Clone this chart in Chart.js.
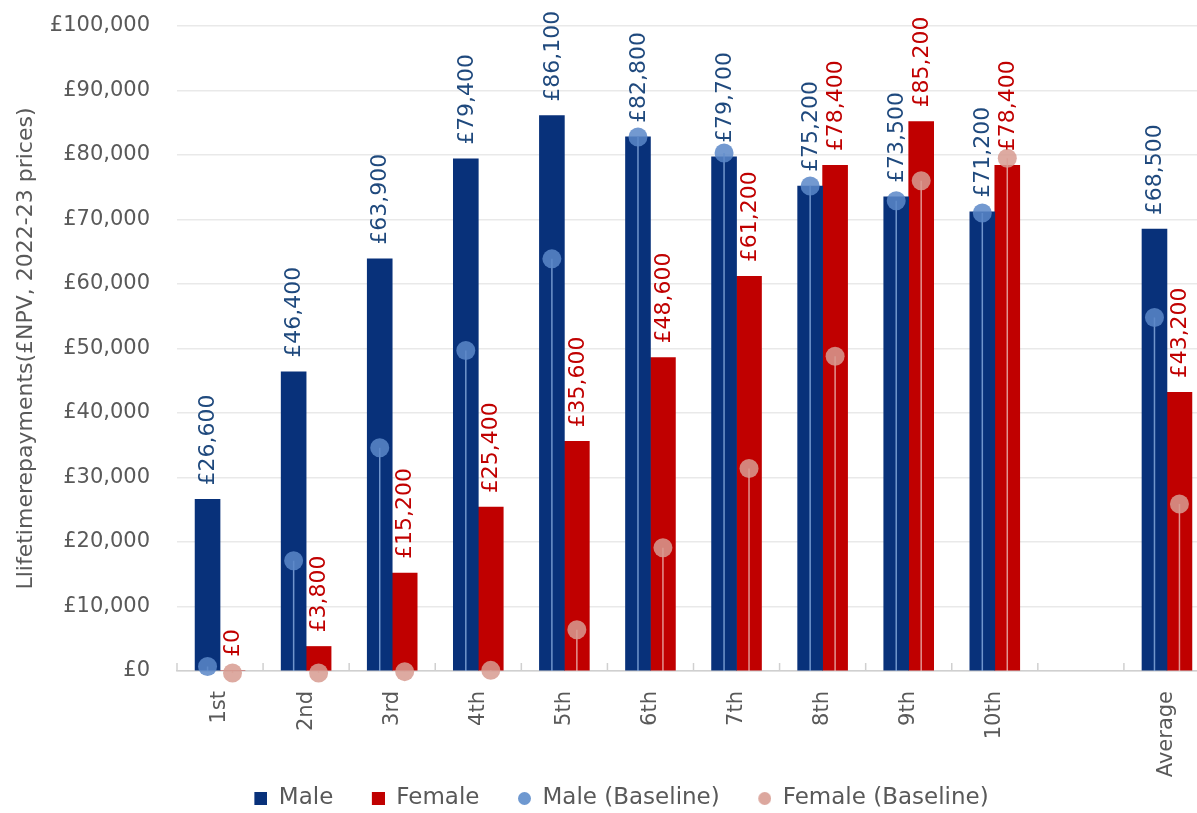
<!DOCTYPE html>
<html>
<head>
<meta charset="utf-8">
<script src="https://cdn.jsdelivr.net/npm/chart.js@4"></script>
<style>
  html, body { margin: 0; padding: 0; overflow: hidden; background: #ffffff; }
  #wrap { position: relative; width: 1240px; height: 820px; }
</style>
</head>
<body>
<div id="wrap"><canvas id="c" width="1240" height="820"></canvas></div>
<script>
// Lifetime repayments by decile, male vs female, with baseline comparison
const categories = ['1st', '2nd', '3rd', '4th', '5th', '6th', '7th', '8th', '9th', '10th', '', 'Average'];
const maleValues = [26600, 46400, 63900, 79400, 86100, 82800, 79700, 75200, 73500, 71200, null, 68500];
const femaleValues = [0, 3800, 15200, 25400, 35600, 48600, 61200, 78400, 85200, 78400, null, 43200];
const maleBaseline = [700, 17100, 34600, 49700, 63900, 82800, 80300, 75200, 72900, 71000, null, 54800];
const femaleBaseline = [-300, -300, -100, 100, 6400, 19100, 31400, 48800, 76000, 79500, null, 25900];
const yTicks = [0, 10000, 20000, 30000, 40000, 50000, 60000, 70000, 80000, 90000, 100000];

const FONT = "'DejaVu Sans', sans-serif";
const TEXT = '#595959';
const MALE = '#08317A';
const FEMALE = '#C00000';
const MALE_BASE = 'rgba(91,135,200,0.85)';
const FEMALE_BASE = 'rgba(215,155,145,0.85)';
const GROUP = 0.58;        // share of each category taken by the bar pair
const KEY_WIDTH = 46;      // legend marker slot (marker sits at its right end)
const KEY_SIZE = 13;

const money = v => '£' + v.toLocaleString('en-GB');

// male sits in the left half of each category's bar pair, female in the right
function placed(values, side) {
  const pts = [];
  values.forEach((v, i) => {
    if (v !== null) pts.push({ x: i + side * GROUP / 4, y: v });
  });
  return pts;
}

function marker(shape, color) {
  const c = document.createElement('canvas');
  c.width = KEY_WIDTH; c.height = KEY_SIZE;
  const g = c.getContext('2d');
  g.fillStyle = color;
  const x0 = KEY_WIDTH - KEY_SIZE;
  if (shape === 'rect') {
    g.fillRect(x0, 0, KEY_SIZE, KEY_SIZE);
  } else {
    g.beginPath();
    g.arc(x0 + KEY_SIZE / 2, KEY_SIZE / 2, KEY_SIZE / 2, 0, Math.PI * 2);
    g.fill();
  }
  return c;
}
const legendMarkers = [
  marker('rect', MALE),
  marker('rect', FEMALE),
  marker('circle', '#6E98D0'),
  marker('circle', '#DCA79E')
];

// thin stems from each baseline point down to zero
const dropLines = {
  id: 'dropLines',
  beforeDatasetDraw(chart, args) {
    const ds = chart.data.datasets[args.index];
    if (!ds.stemColor) return;
    const y0 = chart.scales.y.getPixelForValue(0);
    const ctx = chart.ctx;
    ctx.save();
    ctx.strokeStyle = ds.stemColor;
    ctx.lineWidth = 1.5;
    args.meta.data.forEach(pt => {
      ctx.beginPath();
      ctx.moveTo(pt.x, pt.y);
      ctx.lineTo(pt.x, y0);
      ctx.stroke();
    });
    ctx.restore();
  }
};

// short category-boundary ticks pointing up from the axis
const innerTicks = {
  id: 'innerTicks',
  beforeDatasetsDraw(chart) {
    const x = chart.scales.x;
    const y0 = chart.scales.y.getPixelForValue(0);
    const step = x.getPixelForValue(1) - x.getPixelForValue(0);
    const ctx = chart.ctx;
    ctx.save();
    ctx.strokeStyle = '#D0D0D0';
    ctx.lineWidth = 1.5;
    for (let i = 0; i <= categories.length; i++) {
      const bx = x.getPixelForValue(i) - step / 2;
      ctx.beginPath();
      ctx.moveTo(bx, y0);
      ctx.lineTo(bx, y0 - 8);
      ctx.stroke();
    }
    ctx.restore();
  }
};

// vertical value labels above each bar
const barLabels = {
  id: 'barLabels',
  afterDatasetsDraw(chart) {
    const ctx = chart.ctx;
    chart.data.datasets.forEach((ds, di) => {
      if (ds.type !== 'bar') return;
      const meta = chart.getDatasetMeta(di);
      meta.data.forEach((bar, i) => {
        const v = ds.data[i].y;
        ctx.save();
        ctx.translate(bar.x, bar.y - 14);
        ctx.rotate(-Math.PI / 2);
        ctx.font = '22px ' + FONT;
        ctx.fillStyle = ds.labelColor;
        ctx.textAlign = 'left';
        ctx.textBaseline = 'middle';
        ctx.fillText(money(v), 0, 1);
        ctx.restore();
      });
    });
  }
};

new Chart(document.getElementById('c'), {
  data: {
    labels: categories,
    datasets: [
      {
        type: 'bar', label: 'Male', data: placed(maleValues, -1),
        xAxisID: 'xb', yAxisID: 'y', grouped: false,
        backgroundColor: MALE, borderWidth: 0, order: 1,
        barPercentage: 1, categoryPercentage: 1, labelColor: '#1F497D'
      },
      {
        type: 'bar', label: 'Female', data: placed(femaleValues, 1),
        xAxisID: 'xb', yAxisID: 'y', grouped: false,
        backgroundColor: FEMALE, borderWidth: 0, order: 1,
        barPercentage: 1, categoryPercentage: 1, labelColor: FEMALE
      },
      {
        type: 'scatter', label: 'Male (Baseline)', data: placed(maleBaseline, -1),
        xAxisID: 'xb', yAxisID: 'y', order: 0, clip: false,
        backgroundColor: MALE_BASE, borderWidth: 0, pointRadius: 9.5, pointHoverRadius: 9.5,
        stemColor: 'rgba(140,175,225,0.8)'
      },
      {
        type: 'scatter', label: 'Female (Baseline)', data: placed(femaleBaseline, 1),
        xAxisID: 'xb', yAxisID: 'y', order: 0, clip: false,
        backgroundColor: FEMALE_BASE, borderWidth: 0, pointRadius: 9.5, pointHoverRadius: 9.5,
        stemColor: 'rgba(235,185,180,0.8)'
      }
    ]
  },
  options: {
    responsive: false,
    animation: false,
    devicePixelRatio: 1,
    layout: { padding: { left: 0, right: 30, top: 26, bottom: 0 } },
    scales: {
      x: {
        type: 'category',
        offset: true,
        grid: { display: true, drawOnChartArea: false, drawTicks: false },
        border: { display: true, color: '#D0D0D0', width: 1.5 },
        ticks: {
          autoSkip: false, minRotation: 90, maxRotation: 90, padding: 20,
          color: TEXT, font: { family: FONT, size: 21 }
        },
        afterFit(s) { s.height = 110.5; }
      },
      xb: {
        type: 'linear', display: false, offset: false,
        min: -0.5, max: categories.length - 0.5
      },
      y: {
        type: 'linear',
        stacked: false,
        min: yTicks[0], max: yTicks[yTicks.length - 1],
        afterBuildTicks(s) { s.ticks = yTicks.map(v => ({ value: v })); },
        grid: {
          color: '#E9E9E9', lineWidth: 1.5,
          drawTicks: true, tickLength: 27, tickColor: 'rgba(0,0,0,0)'
        },
        border: { display: false },
        ticks: {
          padding: 0, color: TEXT, font: { family: FONT, size: 21 },
          callback: v => money(v)
        },
        title: {
          display: true,
          text: 'Llifetimerepayments(£NPV, 2022-23 prices)',
          color: TEXT,
          font: { family: FONT, size: 22 },
          padding: { top: 13, bottom: 0 }
        },
        afterFit(s) { s.width = 177; }
      }
    },
    plugins: {
      tooltip: { enabled: false },
      legend: {
        position: 'bottom',
        labels: {
          usePointStyle: true, pointStyleWidth: KEY_WIDTH, boxHeight: KEY_SIZE, padding: 5.5,
          color: TEXT, font: { family: FONT, size: 23 },
          sort: (a, b) => a.datasetIndex - b.datasetIndex,
          generateLabels(chart) {
            const items = Chart.defaults.plugins.legend.labels.generateLabels(chart);
            items.forEach(it => { it.pointStyle = legendMarkers[it.datasetIndex]; it.lineWidth = 0; });
            return items;
          }
        }
      }
    }
  },
  plugins: [dropLines, innerTicks, barLabels]
});
</script>
</body>
</html>
